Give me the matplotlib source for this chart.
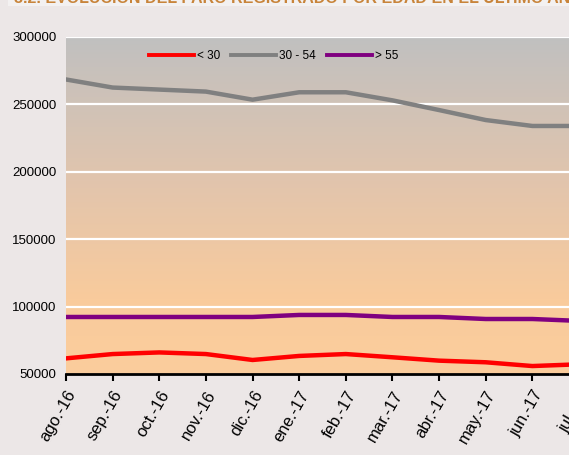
import numpy as np
import matplotlib
matplotlib.use("Agg")
import matplotlib.pyplot as plt
from matplotlib.colors import LinearSegmentedColormap

plt.rcParams['font.family'] = ['Liberation Sans', 'DejaVu Sans']

months = ["ago.-16", "sep.-16", "oct.-16", "nov.-16", "dic.-16", "ene.-17",
          "feb.-17", "mar.-17", "abr.-17", "may.-17", "jun.-17", "jul.-17"]
menos30 = [61600, 64800, 66000, 64800, 60400, 63400, 64800, 62400, 59900, 58700, 55900, 57200]
de30a54 = [268500, 262500, 261000, 259500, 253500, 259000, 259000, 253000, 245800, 238400, 234000, 234000]
mas55 = [92300, 92300, 92300, 92300, 92300, 93800, 93800, 92300, 92300, 90800, 90800, 89400]
series_names = ["< 30", "30 - 54", "> 55"]
yticks = [50000, 100000, 150000, 200000, 250000, 300000]
title = "3.2. EVOLUCIÓN DEL PARO REGISTRADO POR EDAD EN EL ÚLTIMO AÑO"

W, H = 569, 455
fig = plt.figure(figsize=(W / 100, H / 100), dpi=100)
fig.patch.set_facecolor("#ECE7E7")

# light title band and clipped title
fig.patches.append(plt.Rectangle((8 / W, 1 - 6 / H), 1, 6 / H, transform=fig.transFigure,
                                 facecolor="#F3F1F1", edgecolor="none"))
fig.text(14 / W, 1 - 3 / H, title, color="#C8843A", fontsize=11.5, fontweight="bold",
         va="baseline", ha="left")

left, right = 66, 579
top, bottom = 37, 374
ax = fig.add_axes([left / W, 1 - bottom / H, (right - left) / W, (bottom - top) / H])
ax.set_facecolor("none")

x = np.arange(len(months))
ax.set_xlim(0, len(months) - 1)
ax.set_ylim(50000, 300000)

# gradient background
cmap = LinearSegmentedColormap.from_list("bg", [(0, "#FBCD9C"), (0.22, "#F9CB9C"),
                                                (0.55, "#E3C5AC"), (1.0, "#C0C0C0")])
grad = np.linspace(0, 1, 256).reshape(-1, 1)
ax.imshow(grad, cmap=cmap, aspect="auto", origin="lower",
          extent=[0, 1, 0, 1], transform=ax.transAxes, zorder=0)

for yv in yticks[1:]:
    ax.axhline(yv, color="white", lw=1.6, zorder=1)

l1, = ax.plot(x, menos30, color="#FF0000", lw=3.2, zorder=3, solid_joinstyle="round")
l2, = ax.plot(x, de30a54, color="#808080", lw=3.2, zorder=3, solid_joinstyle="round")
l3, = ax.plot(x, mas55, color="#800080", lw=3.2, zorder=3, solid_joinstyle="round")

ax.set_yticks(yticks)
ax.set_yticklabels([str(v) for v in yticks], fontsize=9.5)
ax.tick_params(axis="y", length=0, pad=7)
ax.set_xticks(x)
ax.set_xticklabels(months, rotation=60, ha="right", rotation_mode="anchor", fontsize=12)
ax.tick_params(axis="x", direction="out", length=5, width=1.5, color="black", pad=5)

for s in ["top", "right", "left"]:
    ax.spines[s].set_visible(False)
ax.spines["bottom"].set_linewidth(2)
ax.spines["bottom"].set_color("black")
ax.spines["bottom"].set_zorder(4)

leg = ax.legend([l1, l2, l3], series_names, loc="upper left",
                bbox_to_anchor=((144 - left) / (right - left), (bottom - 45) / (bottom - top)),
                ncol=3, frameon=False, fontsize=8.5, handlelength=3.8, handletextpad=0.3,
                columnspacing=0.9, borderaxespad=0)
for ln in leg.get_lines():
    ln.set_linewidth(2.8)

fig.savefig("out.png", dpi=100, facecolor=fig.get_facecolor())
